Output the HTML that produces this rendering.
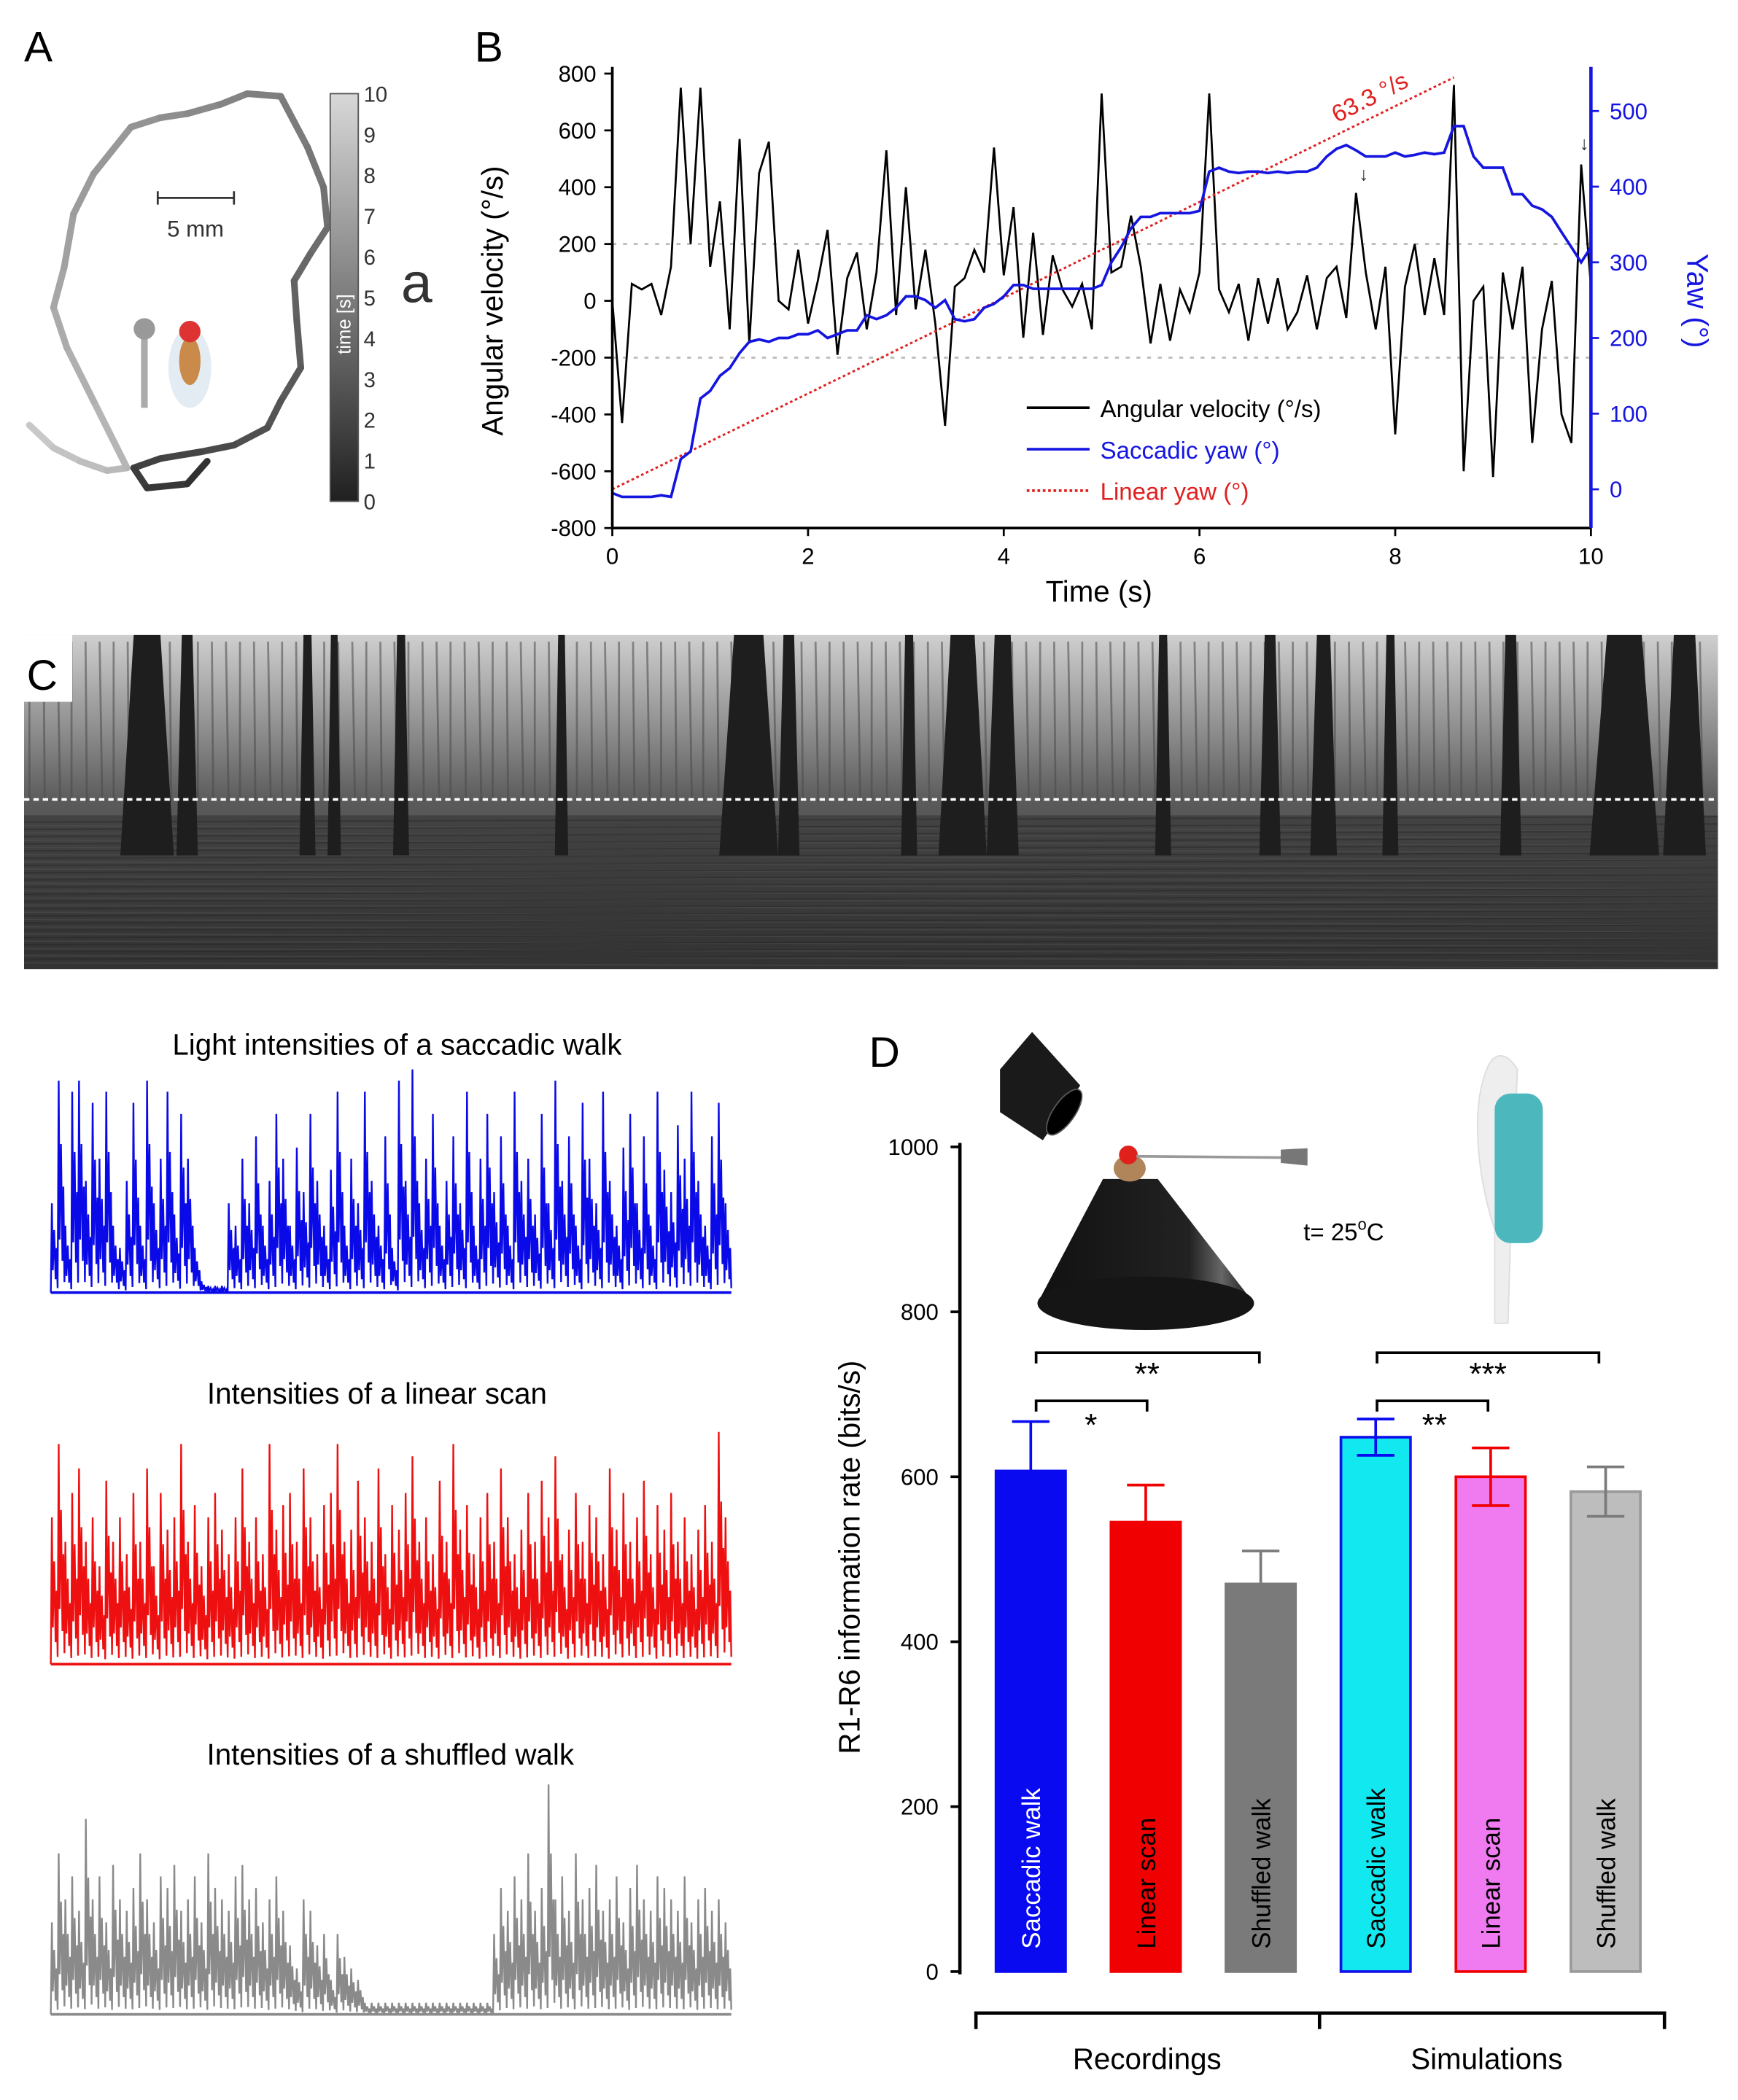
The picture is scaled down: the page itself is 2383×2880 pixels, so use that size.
<!DOCTYPE html>
<html><head><meta charset="utf-8"><style>
html,body{margin:0;padding:0;background:#fff}
svg{display:block}
text{font-family:"Liberation Sans",Arial,sans-serif}
</style></head><body>
<svg id="fig" width="2383" height="2880" viewBox="0 0 1300 1571" xmlns="http://www.w3.org/2000/svg">
<defs>
<linearGradient id="cbar" x1="0" y1="0" x2="0" y2="1"><stop offset="0" stop-color="#d8d8d8"/><stop offset="1" stop-color="#202020"/></linearGradient>
<linearGradient id="sky" x1="0" y1="0" x2="0" y2="1"><stop offset="0" stop-color="#cfcfcf"/><stop offset="0.3" stop-color="#8a8a8a"/><stop offset="0.5" stop-color="#5a5a5a"/><stop offset="1" stop-color="#383838"/></linearGradient>
<linearGradient id="cone" x1="0" y1="0" x2="1" y2="0"><stop offset="0" stop-color="#111"/><stop offset="0.7" stop-color="#222"/><stop offset="0.85" stop-color="#666"/><stop offset="1" stop-color="#111"/></linearGradient>
</defs>

<g>
<text x="18" y="46" font-size="32">A</text>
<g id="traj"></g>
<line x1="118" y1="148" x2="175" y2="148" stroke="#333" stroke-width="1.5"/>
<line x1="118" y1="143" x2="118" y2="153" stroke="#333" stroke-width="1.5"/>
<line x1="175" y1="143" x2="175" y2="153" stroke="#333" stroke-width="1.5"/>
<text x="125" y="177" font-size="17" fill="#333">5 mm</text>
<line x1="108" y1="250" x2="108" y2="305" stroke="#aaa" stroke-width="5"/>
<circle cx="108" cy="246" r="8" fill="#999"/>
<ellipse cx="142" cy="275" rx="16" ry="30" fill="#d7e4ec" opacity="0.7"/>
<ellipse cx="142" cy="270" rx="8" ry="18" fill="#c98a4a"/>
<circle cx="142" cy="248" r="8" fill="#d33"/>
<rect x="247" y="70" width="21" height="305" fill="url(#cbar)" stroke="#555"/>
<text transform="translate(262,265) rotate(-90)" font-size="14" fill="#fff">time [s]</text>
<g id="cbticks" font-size="16" fill="#333"></g>
<text x="300" y="226" font-size="42" fill="#333">a</text>
</g>

<g>
<text x="355" y="46" font-size="32">B</text>
<g id="pb"></g>
</g>

<g>
<rect x="18" y="475" width="1267" height="250" fill="url(#sky)"/>
<g id="trees"></g>
<line x1="18" y1="598" x2="1285" y2="598" stroke="#fff" stroke-width="2" stroke-dasharray="4,3"/>
<rect x="18" y="475" width="36" height="50" fill="#fff"/>
<text x="20" y="516" font-size="32">C</text>
</g>

<g>
<text x="297" y="789" font-size="22" text-anchor="middle">Light intensities of a saccadic walk</text>
<text x="282" y="1050" font-size="22" text-anchor="middle">Intensities of a linear scan</text>
<text x="292" y="1320" font-size="22" text-anchor="middle">Intensities of a shuffled walk</text>
<g id="traces"></g>
</g>

<g>
<text x="650" y="798" font-size="32">D</text>
<g>
<polygon points="748,800 772,772 808,812 780,853 748,832" fill="#1a1a1a"/>
<ellipse cx="796" cy="832" rx="8" ry="20" transform="rotate(35 796 832)" fill="#000" stroke="#555"/>
<polygon points="825,882 866,882 938,975 776,975" fill="url(#cone)"/>
<ellipse cx="857" cy="975" rx="81" ry="20" fill="#151515"/>
<ellipse cx="845" cy="874" rx="12" ry="10" fill="#b0855a"/>
<circle cx="844" cy="864" r="7" fill="#e0201a"/>
<line x1="850" y1="865" x2="960" y2="866" stroke="#999" stroke-width="2"/>
<polygon points="958,860 978,859 978,872 958,870" fill="#777"/>
<text x="975" y="928" font-size="18">t= 25<tspan dy="-8" font-size="12">o</tspan><tspan dy="8">C</tspan></text>
<path d="M1118,990 L1118,920 C1105,880 1100,830 1112,800 C1118,785 1128,788 1135,800 L1130,920 L1128,990 Z" fill="#eee" stroke="#ddd"/>
<rect x="1118" y="818" width="36" height="112" rx="12" fill="#4cb8be"/>
</g>
<g id="pd"></g>
</g>
</svg>
<script>
var NS='http://www.w3.org/2000/svg';
function mk(parent,tag,attrs,txt){var e=document.createElementNS(NS,tag);for(var k in attrs)e.setAttribute(k,attrs[k]);if(txt!==undefined)e.textContent=txt;parent.appendChild(e);return e;}

var trajX=[22,40,60,80,95,70,50,40,48,55,70,98,120,140,165,185,210,230,242,245,232,220,222,225,210,200,175,150,120,100,110,140,155];
var trajY=[318,335,345,352,350,300,260,230,200,160,130,95,88,85,78,70,72,110,140,170,190,210,240,275,300,320,333,338,343,350,365,362,345];
var cbTicks=[0,1,2,3,4,5,6,7,8,9,10];
var traj=document.getElementById('traj');
for(var i=0;i<trajX.length-1;i++){
  var g=Math.round(200-150*i/(trajX.length-2));
  var s=mk(traj,'line',{x1:trajX[i],y1:trajY[i],x2:trajX[i+1],y2:trajY[i+1],stroke:'rgb('+g+','+g+','+g+')','stroke-width':5,'stroke-linecap':'round'});
  
  
}
var cbt=document.getElementById('cbticks');
cbTicks.forEach(function(v){var y=375-v*30.5;var t=mk(cbt,'text',{x:272,y:y+6},v);
  
  });

var angVel=[0,-430,60,40,60,-50,120,750,200,750,120,350,-100,570,-150,450,560,0,-30,180,-80,70,250,-190,80,170,-100,100,530,-50,400,-30,180,-80,-440,50,80,180,100,540,90,330,-130,240,-120,160,40,-20,60,-100,730,100,120,300,120,-150,60,-140,40,-40,100,730,40,-40,60,-140,80,-80,80,-100,-40,90,-100,80,120,-60,380,100,-100,120,-470,50,200,-50,150,-50,760,-600,0,50,-620,100,-100,120,-500,-100,70,-400,-500,480,50];
var yaw=[-5,-10,-10,-10,-10,-8,-10,40,50,120,130,150,160,180,195,198,195,200,200,205,205,210,200,205,210,210,230,225,230,240,255,255,250,240,250,225,222,225,240,245,255,270,270,265,265,265,265,265,265,265,270,300,320,345,360,360,365,365,365,365,368,420,425,420,418,420,420,418,420,418,420,420,425,440,450,455,448,440,440,440,445,440,442,445,443,445,480,480,440,425,425,425,390,390,375,370,360,340,320,300,320];
var linRate=63.3, linEnd=8.6;
var leftTicks=[-800,-600,-400,-200,0,200,400,600,800];
var rightTicks=[0,100,200,300,400,500];
var xTicks=[0,2,4,6,8,10];
var X0=458,X1=1190;
function bx(t){return X0+(X1-X0)*t/10;}
function byL(v){return 225-v*170/800;}
function byR(v){return 366-v*(366-83)/500;}
var pb=document.getElementById('pb');
[200,-200].forEach(function(v){var l=mk(pb,'line',{x1:X0,x2:X1,y1:byL(v),y2:byL(v),stroke:'#bbb','stroke-dasharray':'3,5','stroke-width':1.5});
  
  });
var pts=angVel.map(function(v,i){return bx(i*0.1).toFixed(1)+','+byL(v).toFixed(1);}).join(' ');
var av=mk(pb,'polyline',{points:pts,fill:'none',stroke:'#000','stroke-width':1.5});


var ln=mk(pb,'line',{x1:bx(0),y1:byR(0),x2:bx(linEnd),y2:byR(linRate*linEnd),stroke:'#e02020','stroke-width':1.6,'stroke-dasharray':'2,2'});


var pts2=yaw.map(function(v,i){return bx(i*0.1).toFixed(1)+','+byR(v).toFixed(1);}).join(' ');
var yl=mk(pb,'polyline',{points:pts2,fill:'none',stroke:'#1515e0','stroke-width':2});


var lbl=mk(pb,'text',{x:0,y:0,'font-size':18,fill:'#e02020',transform:'translate(1000,92) rotate(-27)'},'63.3 °/s');


[[1020,135],[1185,112]].forEach(function(p){var a=mk(pb,'text',{x:p[0],y:p[1],'font-size':14,fill:'#333','text-anchor':'middle'},'↓');
  
  });
var ax=mk(pb,'path',{d:'M'+X0+',50 L'+X0+',395 L'+X1+',395',fill:'none',stroke:'#000','stroke-width':2});


var rax=mk(pb,'line',{x1:X1,y1:50,x2:X1,y2:395,stroke:'#1515e0','stroke-width':2.5});


leftTicks.forEach(function(v){var y=byL(v);mk(pb,'line',{x1:X0-6,x2:X0,y1:y,y2:y,stroke:'#000','stroke-width':1.5});
  var t=mk(pb,'text',{x:X0-12,y:y+6,'font-size':17,'text-anchor':'end'},v);
  
  });
rightTicks.forEach(function(v){var y=byR(v);mk(pb,'line',{x1:X1,x2:X1+6,y1:y,y2:y,stroke:'#1515e0','stroke-width':1.5});
  var t=mk(pb,'text',{x:X1+14,y:y+6,'font-size':17,fill:'#1515e0'},v);
  
  });
xTicks.forEach(function(v){var x=bx(v);mk(pb,'line',{x1:x,x2:x,y1:395,y2:401,stroke:'#000','stroke-width':1.5});
  var t=mk(pb,'text',{x:x,y:422,'font-size':17,'text-anchor':'middle'},v);
  
  });
var xt=mk(pb,'text',{x:822,y:450,'font-size':22,'text-anchor':'middle'},'Time (s)');


var yt=mk(pb,'text',{x:0,y:0,'font-size':22,'text-anchor':'middle',transform:'translate(376,225) rotate(-90)'},'Angular velocity (°/s)');


var yt2=mk(pb,'text',{x:0,y:0,'font-size':22,fill:'#1515e0','text-anchor':'middle',transform:'translate(1262,225) rotate(90)'},'Yaw (°)');


var legItems=[['Angular velocity (°/s)','#000',''],['Saccadic yaw (°)','#1515e0',''],['Linear yaw (°)','#e02020','2,2']];
legItems.forEach(function(it,i){var y=305+i*31;
  var l=mk(pb,'line',{x1:768,x2:815,y1:y,y2:y,stroke:it[1],'stroke-width':2,'stroke-dasharray':it[2]});
  
  
  var t=mk(pb,'text',{x:823,y:y+7,'font-size':18,fill:it[1]},it[0]);
  
  });

var treeX=[110,140,230,250,300,420,560,590,680,720,750,870,950,990,1040,1130,1215,1260];
var treeW=[20,8,6,5,6,5,22,8,6,18,12,6,8,10,6,8,26,16];
var trees=document.getElementById('trees');
mk(trees,'rect',{x:18,y:610,width:1267,height:115,fill:'#2e2e2e',opacity:0.5});
for(var i=0;i<120;i++){var x=22+i*10.5;mk(trees,'line',{x1:x,y1:480,x2:x+(i%3),y2:600,stroke:'#4a4a4a','stroke-width':1.5,opacity:0.55});}
for(var j=0;j<40;j++){var y=615+j*2.7;mk(trees,'line',{x1:18,y1:y,x2:1285,y2:y+((j%2)?4:-4),stroke:(j%2)?'#555':'#222','stroke-width':1,opacity:0.4});}
treeX.forEach(function(x,i){var r=mk(trees,'polygon',{points:(x-treeW[i]/2)+',475 '+(x+treeW[i]/2)+',475 '+(x+treeW[i])+',640 '+(x-treeW[i])+',640',fill:'#1e1e1e'});
  
  });

var blueVals=[0.4,0.95,0.3,0.9,0.95,0.5,0.85,0.6,0.9,0.3,0.2,0.5,0.85,0.3,0.95,0.4,0.6,0.9,0.35,0.8,0.6,0.2,0.05,0.03,0.03,0.03,0.4,0.3,0.6,0.4,0.7,0.3,0.5,0.8,0.6,0.3,0.65,0.45,0.8,0.5,0.3,0.55,0.9,0.3,0.6,0.4,0.9,0.5,0.3,0.7,0.2,0.95,0.5,1.0,0.4,0.6,0.8,0.3,0.5,0.7,0.4,0.9,0.3,0.6,0.8,0.45,0.7,0.3,0.9,0.5,0.6,0.35,0.8,0.4,0.95,0.5,0.7,0.3,0.85,0.6,0.4,0.9,0.5,0.3,0.65,0.8,0.4,0.7,0.3,0.9,0.55,0.45,0.75,0.6,0.9,0.5,0.3,0.7,0.85,0.4];
var redVals=[0.6,0.9,0.5,0.7,0.8,0.5,0.6,0.4,0.75,0.5,0.6,0.45,0.7,0.5,0.8,0.4,0.7,0.55,0.6,0.9,0.5,0.65,0.4,0.6,0.7,0.55,0.45,0.6,0.8,0.5,0.6,0.45,0.9,0.55,0.65,0.7,0.5,0.8,0.6,0.45,0.65,0.7,0.9,0.5,0.55,0.75,0.6,0.5,0.8,0.45,0.65,0.55,0.7,0.85,0.5,0.6,0.45,0.75,0.5,0.9,0.55,0.65,0.45,0.6,0.7,0.5,0.8,0.6,0.45,0.55,0.7,0.5,0.75,0.6,0.85,0.45,0.55,0.7,0.5,0.65,0.6,0.45,0.8,0.55,0.7,0.5,0.6,0.75,0.45,0.65,0.55,0.7,0.5,0.6,0.45,0.55,0.65,0.5,0.95,0.6];
var grayVals=[0.4,0.7,0.5,0.6,0.45,0.85,0.5,0.6,0.4,0.65,0.5,0.45,0.55,0.7,0.5,0.4,0.6,0.55,0.65,0.45,0.5,0.6,0.4,0.7,0.55,0.5,0.45,0.6,0.65,0.5,0.55,0.4,0.5,0.6,0.45,0.3,0.2,0.5,0.45,0.3,0.35,0.15,0.35,0.25,0.2,0.15,0.05,0.05,0.05,0.05,0.05,0.05,0.05,0.05,0.05,0.05,0.05,0.05,0.05,0.05,0.05,0.05,0.05,0.05,0.05,0.35,0.55,0.45,0.6,0.5,0.7,0.45,0.55,1.0,0.5,0.6,0.45,0.7,0.5,0.55,0.65,0.45,0.5,0.6,0.4,0.55,0.65,0.5,0.45,0.6,0.55,0.5,0.45,0.6,0.4,0.5,0.55,0.45,0.5,0.4];
var tr=document.getElementById('traces');
function drawTrace(vals,x0,x1,base,top,color,name){
  var n=vals.length,dx=(x1-x0)/n,h=base-top,d='M'+x0+','+base;
  for(var i=0;i<n;i++){var x=x0+i*dx;var v=vals[i];
    d+=' L'+(x+dx*0.15).toFixed(1)+','+(base-v*h).toFixed(1)+' L'+(x+dx*0.3).toFixed(1)+','+(base-v*0.25*h).toFixed(1)+' L'+(x+dx*0.5).toFixed(1)+','+(base-v*0.7*h).toFixed(1)+' L'+(x+dx*0.7).toFixed(1)+','+(base-v*0.15*h).toFixed(1)+' L'+(x+dx*0.85).toFixed(1)+','+(base-v*0.5*h).toFixed(1)+' L'+(x+dx).toFixed(1)+','+(base-v*0.05*h).toFixed(1);}
  var p=mk(tr,'path',{d:d,fill:'none',stroke:color,'stroke-width':1.3});
  
  
  var b=mk(tr,'line',{x1:x0,x2:x1,y1:base,y2:base,stroke:color,'stroke-width':2});
  
  
}
drawTrace(blueVals,38,547,967,800,'#0a0ae8','saccadic-walk-trace');
drawTrace(redVals,38,547,1245,1062,'#ee1010','linear-scan-trace');
drawTrace(grayVals,38,547,1507,1335,'#8a8a8a','shuffled-walk-trace');

var barNames=['Saccadic walk','Linear scan','Shuffled walk','Saccadic walk','Linear scan','Shuffled walk'];
var barVals=[607,545,470,648,600,582];
var barErr=[60,45,40,22,35,30];
var yTicksD=[0,200,400,600,800,1000];
var barFill=['#0a0af0','#f00000','#7a7a7a','#12e8f0','#f07af0','#bdbdbd'];
var barStroke=['#0a0af0','#f00000','#7a7a7a','#1010e8','#f00000','#9a9a9a'];
var errColor=['#0a0af0','#f00000','#7a7a7a','#0a0af0','#f00000','#7a7a7a'];
var textColor=['#fff','#000','#000','#000','#000','#000'];
var pd=document.getElementById('pd');
function dy(v){return 1475-v*(1475-858)/1000;}
function dx(i){return 745+i*86;}
var BW=52;
barVals.forEach(function(v,i){
  var x=dx(i);
  var r=mk(pd,'rect',{x:x,y:dy(v),width:BW,height:1475-dy(v),fill:barFill[i],stroke:barStroke[i],'stroke-width':2});
  
  
  var cx=x+BW/2,yt=dy(v+barErr[i]),yb=dy(v-barErr[i]);
  var e=mk(pd,'path',{d:'M'+cx+','+dy(v)+' L'+cx+','+yt+' M'+(cx-14)+','+yt+' L'+(cx+14)+','+yt+(i>=3?' M'+cx+','+dy(v)+' L'+cx+','+yb+' M'+(cx-14)+','+yb+' L'+(cx+14)+','+yb:''),stroke:errColor[i],'stroke-width':2,fill:'none'});
  
  
  var t=mk(pd,'text',{x:0,y:0,'font-size':19,fill:textColor[i],transform:'translate('+(cx+7)+',1458) rotate(-90)'},barNames[i]);
  
  
});
var dax=mk(pd,'line',{x1:718,y1:855,x2:718,y2:1477,stroke:'#000','stroke-width':2.5});


yTicksD.forEach(function(v){var y=dy(v);mk(pd,'line',{x1:711,x2:718,y1:y,y2:y,stroke:'#000','stroke-width':2});
  var t=mk(pd,'text',{x:702,y:y+6,'font-size':17,'text-anchor':'end'},v);
  
  });
var dyt=mk(pd,'text',{x:0,y:0,'font-size':22,'text-anchor':'middle',transform:'translate(643,1165) rotate(-90)'},'R1-R6 information rate (bits/s)');


var grp=mk(pd,'path',{d:'M730,1518 L730,1506 L1245,1506 L1245,1518 M987,1506 L987,1518',fill:'none',stroke:'#000','stroke-width':2.5});


var g1=mk(pd,'text',{x:858,y:1548,'font-size':22,'text-anchor':'middle'},'Recordings');


var g2=mk(pd,'text',{x:1112,y:1548,'font-size':22,'text-anchor':'middle'},'Simulations');


var brackets=[[775,942,1012,'**',1030,858],[775,858,1048,'*',1068,816],[1030,1196,1012,'***',1030,1113],[1030,1113,1048,'**',1068,1073]];
brackets.forEach(function(b){
  var p=mk(pd,'path',{d:'M'+b[0]+','+(b[2]+8)+' L'+b[0]+','+b[2]+' L'+b[1]+','+b[2]+' L'+b[1]+','+(b[2]+8),fill:'none',stroke:'#000','stroke-width':2});
  
  
  var t=mk(pd,'text',{x:b[5],y:b[4]+6,'font-size':24,'text-anchor':'middle'},b[3]);
  
  
});
</script>
</body></html>
